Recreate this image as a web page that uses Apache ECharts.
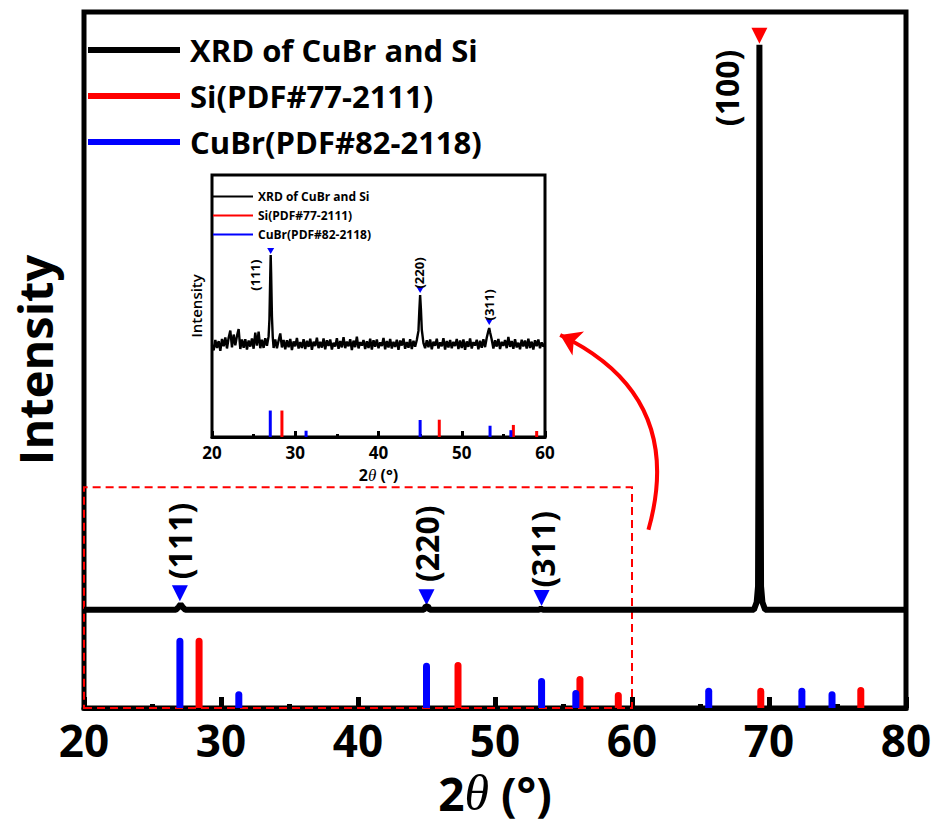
<!DOCTYPE html>
<html>
<head>
<meta charset="utf-8">
<script src="https://cdn.jsdelivr.net/npm/echarts@6/dist/echarts.min.js"></script>
<style>
  html, body { margin: 0; padding: 0; background: #fff; }
  #chart { width: 939px; height: 834px; }
</style>
</head>
<body>
<div id="chart"></div>
<script>
// --- data ---
var seriesNames = ['XRD of CuBr and Si', 'Si(PDF#77-2111)', 'CuBr(PDF#82-2118)'];
var xTicks = [20, 30, 40, 50, 60, 70, 80];
var insetTicks = [20, 30, 40, 50, 60];

// main pattern (2theta, intensity)
var xrdMain = [
  [20, 14.1], [26.7, 14.1], [26.9, 14.5], [27.05, 14.9], [27.2, 14.5], [27.4, 14.1],
  [44.8, 14.1], [44.95, 14.6], [45.1, 14.6], [45.25, 14.1],
  [53.2, 14.1], [53.35, 14.3], [53.5, 14.1],
  [68.9, 14.1], [69.1, 15.2], [69.2, 17.5], [69.27, 60], [69.3, 95.3], [69.35, 60],
  [69.42, 17.5], [69.52, 15.2], [69.72, 14.1], [80, 14.1]
];

// inset pattern (2theta, intensity), 20-60 deg
var xrdInset = [
  [20.0, 35.2], [20.2, 33.1], [20.4, 37.0], [20.6, 34.0], [20.8, 36.6], [21.0, 32.9], [21.2, 37.4], [21.4, 34.6], [21.6, 38.0], [21.8, 33.8],
  [22.0, 37.9], [22.2, 40.6], [22.4, 34.2], [22.6, 39.1], [22.8, 35.0], [23.0, 38.6], [23.2, 41.2], [23.4, 33.6], [23.6, 37.2], [23.8, 34.1],
  [24.0, 37.3], [24.2, 33.4], [24.4, 36.8], [24.6, 34.5], [24.8, 37.6], [25.0, 33.7], [25.2, 39.8], [25.4, 34.9], [25.6, 40.2], [25.8, 33.9],
  [26.0, 37.1], [26.2, 34.0], [26.4, 37.7], [26.6, 34.8], [26.8, 38.4], [26.9, 45.0], [27.0, 62.0], [27.05, 69.5], [27.1, 63.0], [27.2, 46.0], [27.3, 38.0],
  [27.4, 34.0], [27.6, 37.2], [27.8, 33.9], [28.0, 36.8], [28.2, 39.5], [28.4, 34.2], [28.6, 37.0], [28.8, 33.5], [29.0, 36.9], [29.2, 34.3],
  [29.4, 37.4], [29.6, 33.2], [29.8, 36.5], [30.0, 34.6], [30.2, 37.8], [30.4, 33.8], [30.6, 36.2], [30.8, 34.0], [31.0, 37.3], [31.2, 33.6],
  [31.4, 36.7], [31.6, 34.4], [31.8, 37.5], [32.0, 33.3], [32.2, 36.4], [32.4, 34.7], [32.6, 37.9], [32.8, 33.9], [33.0, 36.3], [33.2, 34.1],
  [33.4, 37.6], [33.6, 33.5], [33.8, 36.9], [34.0, 34.8], [34.2, 37.2], [34.4, 33.4], [34.6, 36.0], [34.8, 34.5], [35.0, 37.7], [35.2, 33.7],
  [35.4, 36.6], [35.6, 34.2], [35.8, 38.1], [36.0, 33.9], [36.2, 36.4], [36.4, 34.6], [36.6, 37.3], [36.8, 33.2], [37.0, 36.8], [37.2, 34.3],
  [37.4, 38.3], [37.6, 33.8], [37.8, 36.2], [38.0, 34.9], [38.2, 37.0], [38.4, 33.6], [38.6, 36.5], [38.8, 34.0], [39.0, 37.5], [39.2, 33.4],
  [39.4, 36.9], [39.6, 34.5], [39.8, 37.2], [40.0, 33.9], [40.2, 36.1], [40.4, 34.7], [40.6, 37.8], [40.8, 33.5], [41.0, 36.6], [41.2, 34.2],
  [41.4, 37.4], [41.6, 33.8], [41.8, 36.3], [42.0, 34.4], [42.2, 37.1], [42.4, 33.3], [42.6, 36.8], [42.8, 34.9], [43.0, 37.6], [43.2, 33.7],
  [43.4, 36.2], [43.6, 34.1], [43.8, 37.3], [44.0, 33.6], [44.2, 36.7], [44.4, 34.5], [44.6, 37.0], [44.8, 40.5], [44.9, 48.0], [45.0, 54.2], [45.1, 48.5], [45.2, 41.0],
  [45.4, 35.8], [45.6, 33.9], [45.8, 36.9], [46.0, 34.3], [46.2, 37.2], [46.4, 33.5], [46.6, 36.4], [46.8, 34.8], [47.0, 37.5], [47.2, 33.8],
  [47.4, 36.1], [47.6, 34.6], [47.8, 37.7], [48.0, 33.4], [48.2, 36.6], [48.4, 34.2], [48.6, 37.0], [48.8, 33.9], [49.0, 36.3], [49.2, 34.7],
  [49.4, 37.4], [49.6, 33.6], [49.8, 36.8], [50.0, 34.0], [50.2, 37.2], [50.4, 33.3], [50.6, 36.5], [50.8, 34.4], [51.0, 37.6], [51.2, 33.8],
  [51.4, 36.2], [51.6, 34.9], [51.8, 37.1], [52.0, 33.5], [52.2, 36.7], [52.4, 34.1], [52.6, 37.3], [52.8, 34.3], [53.0, 37.9], [53.2, 40.5], [53.3, 41.6], [53.4, 40.0],
  [53.6, 37.2], [53.8, 33.8], [54.0, 36.9], [54.2, 34.5], [54.4, 37.4], [54.6, 33.6], [54.8, 36.3], [55.0, 34.8], [55.2, 37.0], [55.4, 33.9],
  [55.6, 38.2], [55.8, 34.4], [56.0, 36.6], [56.2, 33.7], [56.4, 37.3], [56.6, 34.2], [56.8, 36.0], [57.0, 33.5], [57.2, 37.1], [57.4, 34.6],
  [57.6, 36.8], [57.8, 33.8], [58.0, 37.5], [58.2, 34.0], [58.4, 36.4], [58.6, 33.4], [58.8, 36.9], [59.0, 34.7], [59.2, 37.2], [59.4, 33.9],
  [59.6, 36.1], [59.8, 34.5], [60.0, 35.8]
];

// reference patterns
var siPos = [28.4, 47.3, 56.2, 59.0, 69.4, 76.7];
var siHeight = [10.1, 6.6, 4.6, 2.3, 2.9, 3.0];
var cubrPos = [27.0, 31.3, 45.0, 53.4, 55.9, 65.6, 72.4, 74.6];
var cubrHeight = [10.1, 2.4, 6.5, 4.3, 2.6, 2.9, 2.9, 2.4];

// peak markers and labels
var mainBlueMarks = [[27.0, 16.5], [45.0, 15.9], [53.4, 15.8]];
var mainRedMarks = [[69.3, 96.6]];
var mainLabels = ['(111)', '(220)', '(311)', '(100)'];
var mainLabelPos = [[27.0, 24.0], [45.0, 23.6], [53.5, 22.8], [66.9, 89.1]];
var insetBlueMarks = [[27.05, 71.0], [45.0, 56.1], [53.3, 43.9]];
var insetLabels = ['(111)', '(220)', '(311)'];
var insetLabelPos = [[25.2, 61.8], [44.85, 62.6], [53.25, 50.4]];

// zoom box and arrow (data coords)
var zoomBox = [[20, 0], [60, 31.7]];
var arrowPath = [[61.2, 25.6], [54.76, 53.6]];

var BLACK = '#000000', RED = '#ff0000', BLUE = '#0000ff';
var FONT = '"Open Sans", "DejaVu Sans", sans-serif';

function pairs(xs, ys, maxX) {
  var out = [];
  for (var i = 0; i < xs.length; i++) {
    if (maxX == null || xs[i] <= maxX) out.push([xs[i], ys[i]]);
  }
  return out;
}
function labelled(names, pos) {
  return names.map(function(n, i) { return { name: n, value: pos[i] }; });
}

var chart = echarts.init(document.getElementById('chart'), null, { renderer: 'svg' });
chart.setOption({
  animation: false,
  backgroundColor: '#fff',
  textStyle: { fontFamily: FONT, color: BLACK },
  grid: [
    { left: 84, right: 33, top: 12, bottom: 126, show: true, borderColor: BLACK, borderWidth: 5 },
    { left: 212, right: 394, top: 175, bottom: 397, show: true, borderColor: BLACK, borderWidth: 3,
      backgroundColor: '#fff' }
  ],
  legend: [
    {
      data: seriesNames, orient: 'vertical', left: 88, top: 32, padding: 0, selectedMode: false,
      icon: 'rect', itemWidth: 92, itemHeight: 6, itemGap: 10,
      textStyle: { fontFamily: FONT, fontSize: 31, fontWeight: 'bold', color: BLACK, lineHeight: 36,
        padding: [0, 0, 0, 5] }
    },
    {
      data: seriesNames, orient: 'vertical', left: 213, top: 189, padding: 0, selectedMode: false,
      icon: 'rect', itemWidth: 40, itemHeight: 2, itemGap: 4,
      textStyle: { fontFamily: FONT, fontSize: 12, fontWeight: 'bold', color: BLACK, lineHeight: 15 }
    }
  ],
  xAxis: [
    {
      gridIndex: 0, type: 'value', min: 20, max: 80, interval: 10,
      axisLine: { lineStyle: { color: BLACK, width: 5 } },
      axisTick: { inside: true, length: 11, lineStyle: { color: BLACK, width: 5 } },
      minorTick: { show: true, splitNumber: 2, length: 4, lineStyle: { color: BLACK, width: 5 } },
      splitLine: { show: false },
      axisLabel: { fontFamily: FONT, fontSize: 44, fontWeight: 'bold', color: BLACK, margin: 10,
        customValues: xTicks },
      name: '{n|2}{t|θ}{n| (°)}', nameLocation: 'middle', nameGap: 60,
      nameTextStyle: { rich: {
        n: { fontFamily: FONT, fontSize: 46, fontWeight: 'bold', color: BLACK },
        t: { fontFamily: '"Liberation Serif", serif', fontSize: 50, fontStyle: 'italic', color: BLACK }
      } }
    },
    {
      gridIndex: 1, type: 'value', min: 20, max: 60, interval: 10,
      axisLine: { lineStyle: { color: BLACK, width: 3 } },
      axisTick: { inside: true, length: 6, lineStyle: { color: BLACK, width: 3 } },
      minorTick: { show: true, splitNumber: 2, length: 3, lineStyle: { color: BLACK, width: 3 } },
      splitLine: { show: false },
      axisLabel: { fontFamily: FONT, fontSize: 17, fontWeight: 'bold', color: BLACK, margin: 6,
        lineHeight: 18, customValues: insetTicks },
      name: '{n|2}{t|θ}{n| (°)}', nameLocation: 'middle', nameGap: 29,
      nameTextStyle: { lineHeight: 18, rich: {
        n: { fontFamily: FONT, fontSize: 16, fontWeight: 'bold', color: BLACK, lineHeight: 18 },
        t: { fontFamily: '"Liberation Serif", serif', fontSize: 17, fontStyle: 'italic', color: BLACK, lineHeight: 18 }
      } }
    }
  ],
  yAxis: [
    {
      gridIndex: 0, type: 'value', min: 0, max: 100,
      axisLine: { show: false }, axisTick: { show: false }, axisLabel: { show: false },
      splitLine: { show: false },
      name: 'Intensity', nameLocation: 'middle', nameGap: 26,
      nameTextStyle: { fontFamily: FONT, fontSize: 47, fontWeight: 'bold', color: BLACK }
    },
    {
      gridIndex: 1, type: 'value', min: 0, max: 100,
      axisLine: { show: false }, axisTick: { show: false }, axisLabel: { show: false },
      splitLine: { show: false },
      name: 'Intensity', nameLocation: 'middle', nameGap: 9,
      nameTextStyle: { fontFamily: FONT, fontSize: 15, fontWeight: 600, color: BLACK }
    }
  ],
  series: [
    // --- main panel ---
    {
      name: seriesNames[0], type: 'line', xAxisIndex: 0, yAxisIndex: 0,
      data: xrdMain, symbol: 'none', z: 3,
      itemStyle: { color: BLACK },
      lineStyle: { color: BLACK, width: 6 },
      markArea: {
        silent: true,
        itemStyle: { color: 'rgba(0,0,0,0)', borderColor: RED, borderWidth: 2, borderType: [8, 5] },
        data: [[{ xAxis: zoomBox[0][0], yAxis: zoomBox[0][1] }, { xAxis: zoomBox[1][0], yAxis: zoomBox[1][1] }]]
      }
    },
    {
      name: seriesNames[1], type: 'bar', xAxisIndex: 0, yAxisIndex: 0,
      data: pairs(siPos, siHeight), barWidth: 7, barGap: '-100%',
      itemStyle: { color: RED, borderRadius: [4, 4, 0, 0] }
    },
    {
      name: seriesNames[2], type: 'bar', xAxisIndex: 0, yAxisIndex: 0,
      data: pairs(cubrPos, cubrHeight), barWidth: 7, barGap: '-100%',
      itemStyle: { color: BLUE, borderRadius: [4, 4, 0, 0] }
    },
    {
      type: 'scatter', xAxisIndex: 0, yAxisIndex: 0, data: mainBlueMarks,
      symbol: 'triangle', symbolRotate: 180, symbolSize: [16, 16], itemStyle: { color: BLUE, opacity: 1 }
    },
    {
      type: 'scatter', xAxisIndex: 0, yAxisIndex: 0, data: mainRedMarks,
      symbol: 'triangle', symbolRotate: 180, symbolSize: [16, 16], itemStyle: { color: RED, opacity: 1 }
    },
    {
      type: 'scatter', xAxisIndex: 0, yAxisIndex: 0, data: labelled(mainLabels, mainLabelPos),
      symbolSize: 1, itemStyle: { color: 'rgba(0,0,0,0)', opacity: 1 },
      label: { show: true, position: 'inside', rotate: 90, formatter: '{b}',
        fontFamily: FONT, fontSize: 32, fontWeight: 'bold', color: BLACK }
    },
    {
      type: 'lines', coordinateSystem: 'cartesian2d', xAxisIndex: 0, yAxisIndex: 0,
      data: [{ coords: arrowPath }], symbol: ['none', 'arrow'], symbolSize: 20,
      lineStyle: { color: RED, width: 4, curveness: -0.42, opacity: 1 }, z: 5
    },
    // --- inset panel ---
    {
      name: seriesNames[0], type: 'line', xAxisIndex: 1, yAxisIndex: 1,
      data: xrdInset, symbol: 'none', z: 3,
      itemStyle: { color: BLACK },
      lineStyle: { color: BLACK, width: 2.4 }
    },
    {
      name: seriesNames[1], type: 'bar', xAxisIndex: 1, yAxisIndex: 1,
      data: pairs(siPos, siHeight, 60), barWidth: 3, barGap: '-100%',
      itemStyle: { color: RED }
    },
    {
      name: seriesNames[2], type: 'bar', xAxisIndex: 1, yAxisIndex: 1,
      data: pairs(cubrPos, cubrHeight, 60), barWidth: 3, barGap: '-100%',
      itemStyle: { color: BLUE }
    },
    {
      type: 'scatter', xAxisIndex: 1, yAxisIndex: 1, data: insetBlueMarks,
      symbol: 'triangle', symbolRotate: 180, symbolSize: [7, 6], itemStyle: { color: BLUE, opacity: 1 }
    },
    {
      type: 'scatter', xAxisIndex: 1, yAxisIndex: 1, data: labelled(insetLabels, insetLabelPos),
      symbolSize: 1, itemStyle: { color: 'rgba(0,0,0,0)', opacity: 1 },
      label: { show: true, position: 'inside', rotate: 90, formatter: '{b}',
        fontFamily: FONT, fontSize: 13, fontWeight: 'bold', color: BLACK }
    }
  ]
});
window.addEventListener('resize', function() { chart.resize(); });
</script>
</body>
</html>
